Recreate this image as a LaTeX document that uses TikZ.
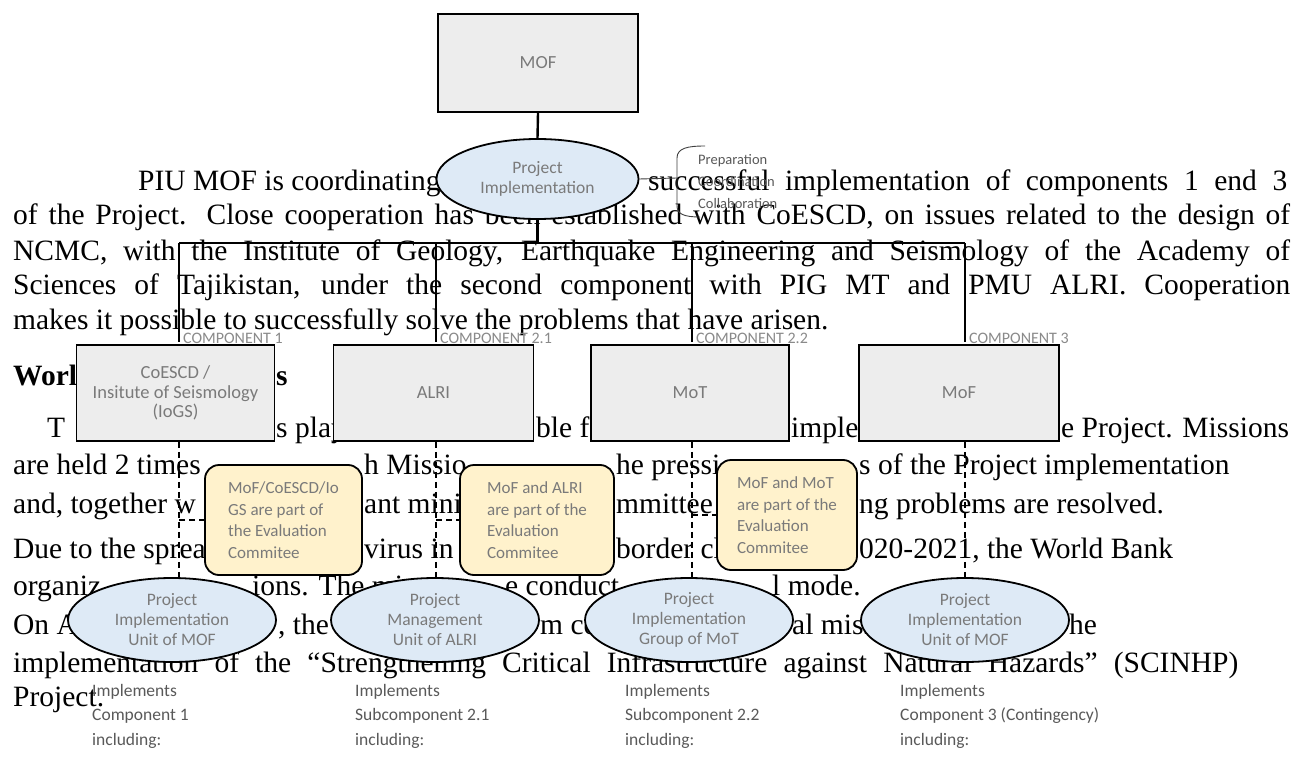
\documentclass[tikz,border=0pt]{standalone}
\usepackage{fontspec}
\setmainfont{Liberation Serif}
\newfontfamily\calib{Carlito}
\usetikzlibrary{shapes.geometric}
\definecolor{boxfill}{HTML}{EDEDED}
\definecolor{ellfill}{HTML}{DEEAF6}
\definecolor{notefill}{HTML}{FFF2CC}
\definecolor{dtext}{HTML}{7A7A7A}
\definecolor{btext}{HTML}{595959}
\definecolor{ctext}{HTML}{8A8A8A}
\pgfdeclarelayer{txt}
\pgfdeclarelayer{lines}
\pgfsetlayers{txt,lines,main}
\begin{document}
\begin{tikzpicture}[x=1pt,y=-1pt,
 body/.style={anchor=base west, inner sep=0pt, font=\fontsize{29.5}{34}\selectfont},
 head/.style={anchor=base west, inner sep=0pt, font=\fontsize{29.5}{34}\selectfont\bfseries},
 orgbox/.style={draw=black, line width=1.5pt, fill=boxfill, minimum height=96pt, inner sep=0pt, align=center, text=dtext, font=\calib\fontsize{18.5}{19.5}\selectfont},
 unit/.style={ellipse, draw=black, line width=1.8pt, fill=ellfill, minimum width=208pt, minimum height=84pt, inner sep=0pt, align=center, text=dtext, font=\calib\fontsize{17.5}{20}\selectfont},
 note/.style={draw=black, line width=1.8pt, fill=notefill, rounded corners=14pt, inner sep=0pt, align=left, text=dtext, font=\calib\fontsize{17}{21.5}\selectfont},
 comp/.style={anchor=base west, inner sep=0pt, text=ctext, font=\calib\fontsize{16}{18}\selectfont},
 impl/.style={anchor=north west, inner sep=0pt, align=left, text=btext, font=\calib\fontsize{17.5}{24.5}\selectfont},
 tree/.style={line width=2.4pt},
 dashline/.style={line width=1.5pt, dash pattern=on 6pt off 4pt},
 brk/.style={line width=0.9pt, draw=black!75},
]
\useasboundingbox (0,0) rectangle (1297,767);

\begin{pgfonlayer}{txt}
\fill[white] (0,0) rectangle (1297,767);
% paragraph 1
\node[body] (l1a) at (138,191) {PIU MOF is coordinating};
\node[body] (l1b) at (648,191) {\makebox[639pt][s]{successful implementation of components 1 end 3}};
\node[body] (l2) at (13,225) {\makebox[1277pt][s]{of the Project. Close cooperation has been established with CoESCD, on issues related to the design of}};
\node[body] (l3) at (13,260) {\makebox[1277pt][s]{NCMC, with the Institute of Geology, Earthquake Engineering and Seismology of the Academy of}};
\node[body] (l4) at (13,294) {\makebox[1277pt][s]{Sciences of Tajikistan, under the second component with PIG MT and PMU ALRI. Cooperation}};
\node[body] (l5) at (13,329) {makes it possible to successfully solve the problems that have arisen.};
% heading
\node[head] (h1) at (13,385) {Worl};
\node[head] (h2) at (276,385) {s};
% paragraph 2
\node[body] (l6a) at (47,437) {T};
\node[body] (l6b) at (276,437) {s play};
\node[body] (l6c) at (536,437) {ble fo};
\node[body] (l6d) at (791,437) {imple};
\node[body] (l6e) at (1061,437) {e Project. Missions};
\node[body] (l7a) at (13,474) {are held 2 times};
\node[body] (l7b) at (364,474) {h Missio};
\node[body] (l7c) at (616,474) {he pressi};
\node[body] (l7d) at (859,474) {s of the Project implementation};
\node[body] (l8a) at (13,513) {and, together w};
\node[body] (l8b) at (364,513) {ant mini};
\node[body] (l8c) at (616,513) {mmittee};
\node[body] (l8d) at (859,513) {ng problems are resolved.};
% paragraph 3
\node[body] (l9a) at (13,558) {Due to the sprea};
\node[body] (l9b) at (364,558) {virus in};
\node[body] (l9c) at (616,558) {border clo};
\node[body] (l9d) at (859,558) {020-2021, the World Bank};
\node[body] (l10a) at (13,595) {organiz};
\node[body] (l10b) at (252,595) {ions. The mi};
\node[body] (l10c) at (505,595) {e conduct};
\node[body] (l10d) at (772,595) {l mode.};
\node[body] (l11a) at (13,634) {On A};
\node[body] (l11b) at (278,634) {, the};
\node[body] (l11c) at (540,634) {m co};
\node[body] (l11d) at (792,634) {al miss};
\node[body] (l11e) at (1069,634) {he};
\node[body] (l12) at (13,672) {\makebox[1225pt][s]{implementation of the “Strengthening Critical Infrastructure against Natural Hazards” (SCINHP)}};
\node[body] (l13) at (13,706) {Project.};
\end{pgfonlayer}

% org chart shapes
\node[orgbox, minimum width=200pt, minimum height=98pt] (mof) at (538,63) {MOF};
\node[unit, minimum width=202pt, minimum height=80pt] (pi) at (537.5,179) {Project\\Implementation};

\node[anchor=north west, inner sep=0pt, align=left, text=btext, font=\calib\fontsize{14.5}{22}\selectfont] (prep) at (698,154) {Preparation\\Coordination\\Collaboration};
\coordinate (brkc) at (677,178);

\coordinate (j) at (537.5,243);
\coordinate (t1) at (179,243);
\coordinate (t2) at (436,243);
\coordinate (t3) at (692,243);
\coordinate (t4) at (965,243);
\coordinate (c1) at (179,342);
\coordinate (c2) at (436,342);
\coordinate (c3) at (692,342);
\coordinate (c4) at (965,342);

\node[comp] (k1) at (183,343) {COMPONENT 1};
\node[comp] (k2) at (440,343) {COMPONENT 2.1};
\node[comp] (k3) at (696,343) {COMPONENT 2.2};
\node[comp] (k4) at (969,343) {COMPONENT 3};

\node[orgbox, minimum width=198pt] (b1) at (175.5,393) {CoESCD /\\Insitute of Seismology\\(IoGS)};
\node[orgbox, minimum width=200pt] (b2) at (433.5,393) {ALRI};
\node[orgbox, minimum width=198pt] (b3) at (690,393) {MoT};
\node[orgbox, minimum width=200pt] (b4) at (959,393) {MoF};

\node[note, minimum width=157pt, minimum height=110pt] (n1) at (283.5,520) {MoF/CoESCD/Io\\GS are part of\\the Evaluation\\Commitee};
\node[note, minimum width=154pt, minimum height=110pt] (n2) at (537,520) {MoF and ALRI\\are part of the\\Evaluation\\Commitee};
\node[note, minimum width=140pt, minimum height=110pt] (n3) at (787,515) {MoF and MoT\\are part of the\\Evaluation\\Commitee};

\node[unit] (e1) at (172,620) {Project\\Implementation\\Unit of MOF};
\node[unit] (e2) at (435,620) {Project\\Management\\Unit of ALRI};
\node[unit] (e3) at (689,620) {Project\\Implementation\\Group of MoT};
\node[unit] (e4) at (965,620) {Project\\Implementation\\Unit of MOF};

\node[impl] (i1) at (92,684) {Implements\\Component 1\\including:};
\node[impl] (i2) at (355,684) {Implements\\Subcomponent 2.1\\including:};
\node[impl] (i3) at (625,684) {Implements\\Subcomponent 2.2\\including:};
\node[impl] (i4) at (900,684) {Implements\\Component 3 (Contingency)\\including:};

\begin{pgfonlayer}{lines}
\draw[tree] (mof.south) -- (pi.north);
\draw[tree] (pi.south) -- (j);
\draw[tree] (t1) -- (t4);
\draw[tree] (t1) -- (c1);
\draw[tree] (t2) -- (c2);
\draw[tree] (t3) -- (c3);
\draw[tree] (t4) -- (c4);
\draw[dashline] (b1.south -| c1) -- (e1.north -| c1);
\draw[dashline] (b2.south -| c2) -- (e2.north -| c2);
\draw[dashline] (b3.south -| c3) -- (e3.north -| c3);
\draw[dashline] (b4.south -| c4) -- (e4.north -| c4);
\draw[dashline] (n1.west -| c1) -- (n1.west);
\draw[dashline] (n2.west -| c2) -- (n2.west);
\draw[dashline] (n3.west -| c3) -- (n3.west);
\draw[brk] (pi.east) -- (brkc);
\draw[brk] (705,146) .. controls (688,146) and (677,148) .. (677,158) -- (677,206) .. controls (677,214) and (684,217) .. (700,217);
\end{pgfonlayer}
\end{tikzpicture}
\end{document}
